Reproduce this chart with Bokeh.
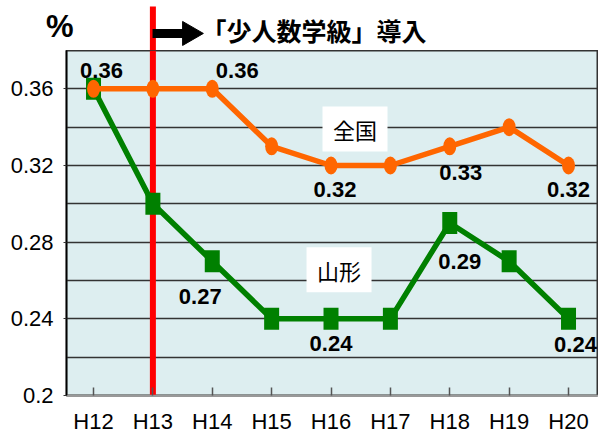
import math
from bokeh.plotting import figure
from bokeh.layouts import column
from bokeh.models import Range1d, FixedTicker, CustomJSTickFormatter, ColumnDataSource
from bokeh.core.properties import value
from bokeh.embed import file_html
from bokeh.resources import INLINE

# ---- data ----
years = ["H12", "H13", "H14", "H15", "H16", "H17", "H18", "H19", "H20"]
zenkoku = [0.36, 0.36, 0.36, 0.33, 0.32, 0.32, 0.33, 0.34, 0.32]
yamagata = [0.36, 0.30, 0.27, 0.24, 0.24, 0.24, 0.29, 0.27, 0.24]
zen_label_idx = [0, 2, 4, 6, 8]
yama_label_idx = [2, 4, 6, 8]
y_ticks = [0.2, 0.24, 0.28, 0.32, 0.36]
y_minor = [0.22, 0.26, 0.30, 0.34, 0.38]
intro_year = "H13"
title_text = "「少人数学級」導入"
unit_text = "%"
zen_name = "全国"
yama_name = "山形"

# ---- label layout (screen px offsets) ----
zen_dx = [8, 25, 4, 11, 0]
zen_dy = [-18, -18, 24, 26, 24]
yama_dx = [-12, 0, 10, 7]
yama_dy = [35, 25, 38, 26]

ORANGE = "#FF6600"
GREEN = "#008000"
RED = "#FF0000"
NUM_FONT = "Liberation Sans"
JP_FONT = "Noto Sans CJK JP"

xi = list(range(len(years)))
intro_x = years.index(intro_year)

X0, X1 = -0.455, 8.505
Y0, Y1 = 0.2, 0.38
PX_PER_Y = 349 / (Y1 - Y0)
HDR_TOP = Y1 + 50 / PX_PER_Y

# ---------------- header strip ----------------
hdr = figure(width=598, height=50, output_backend="svg", toolbar_location=None,
             x_axis_type=None,
             x_range=Range1d(X0, X1), y_range=Range1d(Y1, HDR_TOP),
             min_border_left=66, min_border_right=0, min_border_top=0, min_border_bottom=0)
hdr.grid.visible = False
hdr.outline_line_color = None
hdr.background_fill_color = "white"
hdr.border_fill_color = "white"
# unit mark "%" shown as the header's only y tick label
hdr.yaxis.ticker = FixedTicker(ticks=[0.3857], minor_ticks=[])
hdr.yaxis.formatter = CustomJSTickFormatter(code="return '%s';" % unit_text)
hdr.yaxis.axis_line_color = None
hdr.yaxis.major_tick_line_color = None
hdr.yaxis.minor_tick_line_color = None
hdr.yaxis.major_tick_out = 0
hdr.yaxis.major_tick_in = 0
hdr.yaxis.major_label_standoff = -7
hdr.yaxis.major_label_text_font = NUM_FONT
hdr.yaxis.major_label_text_font_style = "bold"
hdr.yaxis.major_label_text_font_size = "31px"
hdr.yaxis.major_label_text_color = "black"

# red line continues above the plot
hdr.segment(x0=[intro_x], y0=[Y1], x1=[intro_x], y1=[0.40269], line_color=RED, line_width=6)
# arrow
hdr.segment(x0=[0.994], y0=[0.3888], x1=[1.62], y1=[0.3888], line_color="black", line_width=9)
hdr.scatter(x=[1.617], y=[0.3888], marker="triangle", size=24, angle=-math.pi / 2,
            fill_color="black", line_color="black")
hdr.text(x=[1.82], y=[0.3905], text=[title_text], text_align="left", text_baseline="middle",
         text_font=value(JP_FONT), text_font_style="bold", text_font_size="25px", text_color="black")

# ---------------- main plot ----------------
p = figure(width=598, height=386, output_backend="svg", toolbar_location=None,
           x_range=Range1d(X0, X1), y_range=Range1d(Y0, Y1),
           min_border_left=66, min_border_right=0, min_border_top=0, min_border_bottom=37)
p.border_fill_color = "white"
p.background_fill_color = "#DDEEF0"
p.outline_line_color = "#333333"
p.outline_line_width = 2

# axes
p.xaxis.ticker = FixedTicker(ticks=xi)
p.xaxis.major_label_overrides = {i: years[i] for i in xi}
p.xaxis.major_tick_in = 8
p.xaxis.major_tick_out = 0
p.xaxis.minor_tick_line_color = None
p.xaxis.major_tick_line_color = "#555555"
p.xaxis.major_tick_line_width = 1.5
p.xaxis.axis_line_color = "#999999"
p.xaxis.axis_line_width = 1.5
p.xaxis.major_label_text_font = NUM_FONT
p.xaxis.major_label_text_font_size = "22px"
p.xaxis.major_label_text_color = "black"
p.xaxis.major_label_standoff = 13

p.yaxis.ticker = FixedTicker(ticks=y_ticks, minor_ticks=y_minor)
p.yaxis.formatter = CustomJSTickFormatter(code="return tick.toFixed(2).replace(/0$/, '');")
p.yaxis.major_tick_in = 0
p.yaxis.major_tick_out = 3
p.yaxis.minor_tick_in = 0
p.yaxis.minor_tick_out = 0
p.yaxis.major_tick_line_color = "#333333"
p.yaxis.axis_line_color = "black"
p.yaxis.axis_line_width = 1.5
p.yaxis.major_label_text_font = NUM_FONT
p.yaxis.major_label_text_font_size = "22px"
p.yaxis.major_label_text_color = "black"
p.yaxis.major_label_standoff = 10

p.xgrid.grid_line_color = None
p.ygrid.grid_line_color = "#333333"
p.ygrid.grid_line_width = 1.3
p.ygrid.minor_grid_line_color = "#333333"
p.ygrid.minor_grid_line_width = 1.3

# red vertical line
p.segment(x0=[intro_x], y0=[Y0], x1=[intro_x], y1=[Y1], line_color=RED, line_width=6)

# Yamagata
p.line(xi, yamagata, line_color=GREEN, line_width=5.5)
p.rect(xi, yamagata, width=15, height=22, width_units="screen", height_units="screen",
       fill_color=GREEN, line_color=None)

# Zenkoku
p.line(xi, zenkoku, line_color=ORANGE, line_width=5.5)
p.ellipse(xi, zenkoku, width=13, height=18, width_units="screen", height_units="screen",
          fill_color=ORANGE, line_color=None)

# data labels
zsrc = ColumnDataSource(dict(x=[xi[i] for i in zen_label_idx], y=[zenkoku[i] for i in zen_label_idx],
                             t=["%.2f" % zenkoku[i] for i in zen_label_idx], dx=zen_dx, dy=zen_dy))
p.text(x="x", y="y", text="t", x_offset="dx", y_offset="dy", source=zsrc, text_align="center",
       text_baseline="middle", text_font=value(NUM_FONT), text_font_style="bold",
       text_font_size="22px", text_color="black")
ysrc = ColumnDataSource(dict(x=[xi[i] for i in yama_label_idx], y=[yamagata[i] for i in yama_label_idx],
                             t=["%.2f" % yamagata[i] for i in yama_label_idx], dx=yama_dx, dy=yama_dy))
p.text(x="x", y="y", text="t", x_offset="dx", y_offset="dy", source=ysrc, text_align="center",
       text_baseline="middle", text_font=value(NUM_FONT), text_font_style="bold",
       text_font_size="22px", text_color="black")

# series name boxes
p.rect(x=[4.404, 4.135], y=[0.3391, 0.2656], width=65, height=45, width_units="screen",
       height_units="screen", fill_color="white", line_color=None)
p.text(x=[4.404, 4.135], y=[0.3391, 0.2656], text=[zen_name, yama_name], text_align="center",
       text_baseline="middle", text_font=value(JP_FONT), text_font_size="22px", text_color="black")

layout = column(hdr, p, spacing=0)
open("out.html", "w").write(file_html(layout, INLINE))
